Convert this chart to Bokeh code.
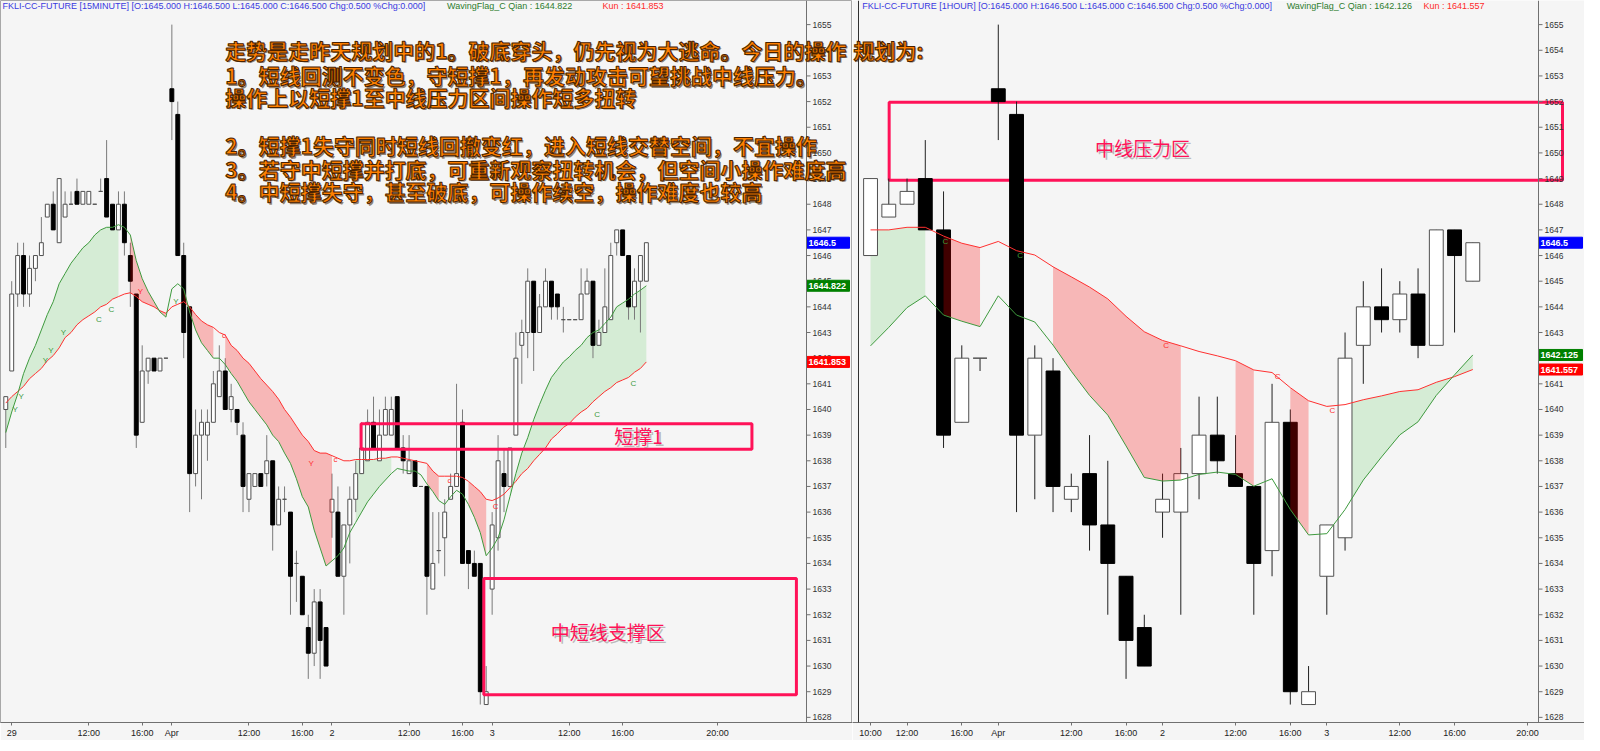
from bokeh.plotting import figure
from bokeh.layouts import row
from bokeh.models import Range1d, FixedTicker, Label, ColumnDataSource, Span
from bokeh.core.properties import value
from bokeh.embed import file_html
from bokeh.resources import INLINE

# ---------------- 15-minute panel data ----------------
m15_open = [1640, 1641.5, 1644.5, 1646, 1644.5, 1645.5, 1646, 1647.5, 1648, 1646.5,
            1647.5, 1648, 1648.5, 1648, 1648, 1648, 1648.5, 1649, 1648, 1647,
            1648, 1646, 1644.5, 1639.5, 1641.5, 1642, 1641.5, 1642,
            1652.5, 1651.5, 1646, 1644, 1637.5, 1639, 1639, 1639.5, 1640.5, 1641.5,
            1640, 1640, 1639, 1636.5, 1637, 1637.5, 1637.5, 1638, 1635.5, 1636.5,
            1636, 1634, 1633.5, 1631.5, 1630.5, 1632.5, 1631.5,
            1636, 1636, 1633.5, 1635.5, 1636.5, 1637.5, 1638, 1639.5, 1638, 1639,
            1639, 1640.5, 1638.5, 1637.5, 1638, 1637, 1637, 1633, 1634.5, 1635,
            1636.5, 1637, 1639.5, 1634.5, 1634, 1634, 1628.5,
            1633, 1635, 1637.5, 1637, 1639, 1642.5, 1643, 1645, 1643, 1644,
            1645, 1644.5, 1643.5, 1643.5, 1643.5, 1643.5, 1644.5, 1645, 1642.5, 1643,
            1643.5, 1646.5, 1647, 1646, 1644, 1645, 1645]
m15_high = [1640.5, 1645, 1646.5, 1646.5, 1646, 1646, 1647.5, 1648, 1648.5, 1649,
            1648.5, 1648.5, 1649, 1648.5, 1648.5, 1648, 1649, 1650.5, 1648, 1648.5,
            1648.5, 1646.5, 1644.5, 1642.5, 1642, 1642, 1642, 1642,
            1655, 1652, 1646.5, 1644, 1640, 1640, 1640, 1641.5, 1642.5, 1642,
            1641, 1640, 1639.5, 1637.5, 1637.5, 1637.5, 1639, 1638, 1637, 1637,
            1636, 1634.5, 1633.5, 1632, 1633, 1633, 1631.5,
            1637.5, 1637, 1635.5, 1637, 1638, 1639.5, 1640, 1640.5, 1640, 1640.5,
            1640.5, 1640.5, 1639, 1639, 1638, 1637, 1637, 1636, 1636, 1636.5,
            1637.5, 1641, 1640, 1634.5, 1634.5, 1634, 1630,
            1636, 1639, 1638.5, 1638.5, 1643, 1643.5, 1645.5, 1645, 1644.5, 1645.5,
            1645, 1644.5, 1644, 1643.5, 1643.5, 1645.5, 1645.5, 1645, 1643.5, 1645.5,
            1646.5, 1647, 1647, 1646, 1645.5, 1646, 1646.5]
m15_low = [1638.5, 1641.5, 1644, 1644, 1644, 1645, 1646, 1647.5, 1647, 1646.5,
           1647.5, 1648, 1648, 1648, 1648, 1648, 1648.5, 1647.5, 1647, 1647,
           1646, 1644, 1638.5, 1639.5, 1641, 1641.5, 1641.5, 1642,
           1650.5, 1646, 1642, 1636, 1637, 1636.5, 1638, 1639.5, 1640.5, 1640,
           1639.5, 1639, 1636, 1636, 1637, 1637, 1637, 1634.5, 1635.5, 1636,
           1632, 1632.5, 1632, 1629.5, 1630, 1629.5, 1630,
           1635, 1633.5, 1632, 1634, 1636, 1637.5, 1638, 1638.5, 1638, 1639,
           1639, 1638.5, 1637.5, 1637.5, 1637, 1637, 1632, 1633, 1634, 1633.5,
           1636.5, 1637, 1634, 1633, 1633.5, 1628.5, 1628.5,
           1632, 1634.5, 1636, 1637, 1639, 1641, 1642, 1641.5, 1643, 1644,
           1643.5, 1643.5, 1643, 1643.5, 1643.5, 1643.5, 1644.5, 1642, 1642.5, 1643,
           1643.5, 1646, 1646, 1643.5, 1643.5, 1643, 1645]
m15_close = [1640.5, 1644.5, 1646, 1644.5, 1645.5, 1646, 1646.5, 1648, 1647, 1649,
             1648, 1648, 1648, 1648.5, 1648.5, 1648, 1648.5, 1647.5, 1647, 1648,
             1646.5, 1645, 1639, 1641.5, 1642, 1641.5, 1642, 1642,
             1652, 1646, 1643, 1637.5, 1639, 1639.5, 1639.5, 1641, 1641.5, 1640,
             1640.5, 1639.5, 1637, 1637.5, 1637.5, 1637, 1638, 1635.5, 1636.5, 1636.5,
             1633.5, 1634, 1632, 1630.5, 1632.5, 1631, 1630,
             1636.5, 1633.5, 1635.5, 1636.5, 1637.5, 1638.5, 1639.5, 1638.5, 1639, 1640,
             1640, 1638.5, 1638, 1638, 1637, 1637, 1633.5, 1634, 1634.5, 1636,
             1637, 1637.5, 1634, 1634, 1633.5, 1629, 1629,
             1635.5, 1638, 1637, 1638.5, 1642, 1643, 1645, 1643, 1644, 1645,
             1644, 1644, 1643.5, 1643.5, 1643.5, 1644.5, 1645, 1642.5, 1643, 1644,
             1646, 1647, 1646, 1644, 1645, 1646, 1646.5]
m15_qian = [1639.1, 1639.9, 1640.6, 1641.4, 1642.0, 1642.5, 1643.1, 1643.7, 1644.2, 1644.9,
            1645.3, 1645.7, 1646.0, 1646.3, 1646.5, 1646.8, 1647.0, 1647.1, 1647.1, 1647.2,
            1647.1, 1646.8, 1645.8, 1645.1, 1644.6, 1644.2, 1643.8, 1643.6,
            1644.7, 1644.9, 1644.7, 1643.8, 1643.1, 1642.6, 1642.3, 1642.0, 1642.0, 1641.75,
            1641.4, 1641.1, 1640.7, 1640.3, 1640.0, 1639.7, 1639.4, 1639.0, 1638.75, 1638.3,
            1637.9, 1637.3, 1636.6, 1636.2, 1635.3, 1634.6, 1633.9,
            1634.1, 1634.3, 1634.6, 1635.2, 1635.6, 1636.0, 1636.4, 1636.7, 1637.0, 1637.25,
            1637.5, 1637.7, 1637.65, 1637.6, 1637.6, 1637.45, 1637.1, 1636.8, 1636.45, 1636.3,
            1636.6, 1636.85, 1636.7, 1636.3, 1635.8, 1635.2, 1634.3,
            1634.6, 1635.0, 1635.7, 1636.6, 1637.5, 1638.3, 1638.9, 1639.6, 1640.2, 1640.75,
            1641.25, 1641.55, 1641.85, 1642.05, 1642.3, 1642.5, 1642.8, 1643.0, 1643.1, 1643.35,
            1643.6, 1644.0, 1644.15, 1644.3, 1644.5, 1644.65, 1644.822]
m15_kun = [1640.25, 1640.5, 1640.7, 1640.9, 1641.2, 1641.4, 1641.6, 1641.9, 1642.1, 1642.4,
           1642.8, 1643.0, 1643.3, 1643.5, 1643.65, 1643.8, 1644.0, 1644.1, 1644.3, 1644.4,
           1644.5, 1644.55, 1644.4, 1644.2, 1644.1, 1644.0, 1643.85, 1643.75,
           1644.0, 1644.1, 1644.2, 1644.0, 1643.7, 1643.45, 1643.3, 1643.2, 1643.0, 1642.9,
           1642.5, 1642.3, 1642.0, 1641.8, 1641.5, 1641.2, 1640.95, 1640.7, 1640.4, 1640.0,
           1639.7, 1639.35, 1639.0, 1638.75, 1638.4, 1638.3, 1638.3,
           1638.2, 1638.1, 1638.0, 1638.0, 1638.05, 1638.05, 1638.05, 1638.05, 1638.1, 1638.1,
           1638.15, 1638.15, 1638.1, 1638.05, 1638.0, 1637.95, 1637.9, 1637.6, 1637.4, 1637.4,
           1637.4, 1637.4, 1637.35, 1637.2, 1637.0, 1636.8, 1636.5,
           1636.45, 1636.55, 1636.7, 1636.95, 1637.2, 1637.5, 1637.7, 1638.0, 1638.25, 1638.5,
           1638.85, 1639.05, 1639.3, 1639.45, 1639.7, 1639.9, 1640.05, 1640.3, 1640.5, 1640.7,
           1640.85, 1641.05, 1641.15, 1641.25, 1641.45, 1641.6, 1641.853]
# bands between the two lines: (first bar, last bar, state)
m15_bands = [(0, 19, "up"), (21, 27, "down"), (30, 35, "down"), (37, 55, "down"),
             (59, 65, "up"), (71, 73, "down"), (78, 81, "down"), (85, 108, "up")]
m15_mark_x = [1.6, 2.6, 6.7, 7.6, 9.7, 15.7, 17.8, 22.7, 28.7, 36.8, 51.5, 55.6, 74.8, 82.6, 99.7, 105.8]
m15_mark_y = [1640.0, 1640.5, 1641.9, 1642.3, 1643.0, 1643.5, 1643.9, 1644.6, 1644.2, 1642.9,
              1637.9, 1638.05, 1637.25, 1636.2, 1639.8, 1641.0]
m15_mark_t = ["Y", "Y", "Y", "Y", "Y", "C", "C", "Y", "Y", "c", "Y", "c", "c", "C", "C", "C"]
m15_mark_s = ["up", "up", "up", "up", "up", "up", "up", "down", "up", "down", "down", "down",
              "down", "down", "up", "up"]
m15_ticks = [1, 14, 23, 28, 41, 50, 55, 68, 77, 82, 95, 104, 120]
m15_tick_labels = ["29", "12:00", "16:00", "Apr", "12:00", "16:00", "2", "12:00", "16:00",
                   "3", "12:00", "16:00", "20:00"]

# ---------------- 1-hour panel data ----------------
h1_open = [1646, 1647.5, 1648, 1649, 1647, 1639.5, 1642, 1652.5, 1651.5, 1639, 1641.5,
           1636.5, 1637.5, 1635.5, 1633.5, 1631.5, 1636, 1636, 1637.5, 1639, 1637.5, 1637,
           1634.5, 1639.5, 1628.5, 1633.5, 1635, 1642.5, 1644, 1643.5, 1644.5, 1642.5,
           1647, 1645]
h1_high = [1649, 1649, 1649, 1650.5, 1648.5, 1642.5, 1642, 1655, 1652, 1642.5, 1642,
           1637.5, 1639, 1638, 1633.5, 1632, 1637.5, 1638.5, 1640.5, 1640.5, 1639, 1637,
           1641, 1640, 1630, 1635.5, 1643, 1645, 1645.5, 1645, 1645.5, 1647, 1647, 1646.5]
h1_low = [1646, 1647.5, 1648, 1647, 1638.5, 1639.5, 1641.5, 1650.5, 1636, 1636.5, 1636,
          1636, 1634.5, 1632, 1629.5, 1630, 1635, 1632, 1636.5, 1637.5, 1637, 1632,
          1633.5, 1628.5, 1628.5, 1632, 1634.5, 1641, 1643, 1643, 1642, 1642.5, 1643, 1645]
h1_close = [1649, 1648, 1648.5, 1647, 1639, 1642, 1642, 1652, 1639, 1642, 1637, 1637,
            1635.5, 1634, 1631, 1630, 1636.5, 1637.5, 1639, 1638, 1637, 1634, 1639.5,
            1629, 1629, 1635.5, 1642, 1644, 1643.5, 1644.5, 1642.5, 1647, 1646, 1646.5]
h1_qian = [1642.48, 1643.2, 1643.97, 1644.43, 1643.68, 1643.44, 1643.23, 1644.43, 1643.68,
           1643.41, 1642.51, 1641.49, 1640.55, 1639.78, 1638.58, 1637.35, 1637.21, 1637.25,
           1637.47, 1637.56, 1637.47, 1637.01, 1637.30, 1636.10, 1635.11, 1635.16, 1636.10,
           1637.25, 1638.15, 1639.01, 1639.52, 1640.55, 1641.35, 1642.126]
h1_kun = [1647.0, 1647.0, 1647.1, 1647.1, 1646.76, 1646.48, 1646.31, 1646.55, 1646.19,
          1646.02, 1645.56, 1645.17, 1644.77, 1644.31, 1643.63, 1643.03, 1642.69, 1642.48,
          1642.26, 1642.09, 1641.90, 1641.54, 1641.44, 1640.85, 1640.34, 1640.12, 1640.19,
          1640.38, 1640.53, 1640.70, 1640.77, 1641.06, 1641.28, 1641.557]
h1_bands = [(0, 3, "up"), (4, 6, "down"), (10, 17, "down"), (20, 21, "down"),
            (23, 24, "down"), (26, 33, "up")]
h1_mark_x = [4.1, 8.2, 16.2, 22.3, 25.3]
h1_mark_y = [1646.54, 1645.99, 1642.51, 1641.28, 1639.95]
h1_mark_t = ["C", "C", "C", "C", "C"]
h1_mark_s = ["up", "up", "down", "down", "down"]
h1_ticks = [0, 2, 5, 7, 11, 14, 16, 20, 23, 25, 29, 32, 36]
h1_tick_labels = ["10:00", "12:00", "16:00", "Apr", "12:00", "16:00", "2", "12:00", "16:00",
                  "3", "12:00", "16:00", "20:00"]

price_ticks = list(range(1628, 1656))

m15_header = "FKLI-CC-FUTURE [15MINUTE] [O:1645.000 H:1646.500 L:1645.000 C:1646.500 Chg:0.500 %Chg:0.000]"
h1_header = "FKLI-CC-FUTURE [1HOUR] [O:1645.000 H:1646.500 L:1645.000 C:1646.500 Chg:0.500 %Chg:0.000]"
m15_qian_txt = "WavingFlag_C Qian : 1644.822"
m15_kun_txt = "Kun : 1641.853"
h1_qian_txt = "WavingFlag_C Qian : 1642.126"
h1_kun_txt = "Kun : 1641.557"
m15_tag_val = [1646.5, 1644.822, 1641.853]
m15_tag_txt = ["1646.5", "1644.822", "1641.853"]
h1_tag_val = [1646.5, 1642.125, 1641.557]
h1_tag_txt = ["1646.5", "1642.125", "1641.557"]
tag_colors = ["#0000FF", "#008000", "#FF0000"]

# first line is split where the left chart window ends; the rest continues on the right
plan_line1_left = "走势是走昨天规划中的1。破底穿头，仍先视为大逃命。今日的操作"
plan_line1_right = "规划为:"
plan_lines = [
    "1。短线回测不变色，守短撑1，再发动攻击可望挑战中线压力。",
    "操作上以短撑1至中线压力区间操作短多扭转",
    "2。短撑1失守同时短线回撤变红，进入短线交替空间，不宜操作",
    "3。若守中短撑并打底，可重新观察扭转机会，但空间小操作难度高",
    "4。中短撑失守，甚至破底，可操作续空，操作难度也较高",
]
plan_y1 = 1654.02
plan_y = [1653.02, 1652.18, 1650.30, 1649.38, 1648.50]

# ---------------- layout constants ----------------
Y_LO, Y_HI = 1627.8, 1655.94
L_X0, L_X1 = -0.89, 135.0          # chart part of the 15-minute window
R_X0, R_X1 = -0.66, 36.6           # chart part of the 1-hour window
L_FW, L_EXT = 806, 46              # chart width, price-scale strip width (px)
R_GAP, R_FW, R_EXT = 6, 680, 46
FH = 722
BG = "#F5F5F5"
PINK = "#FF1258"
UP_LINE = "#3E9A3E"
DN_LINE = "#FF3030"
AX = "#707070"
TXT_FONT = "Liberation Sans"
CJK = "Noto Sans CJK SC"
PLAN_PX = 21
UPY = (Y_HI - Y_LO) / FH           # price units per pixel


def make_fig(width, x0, x1):
    p = figure(frame_width=width, frame_height=FH, x_range=Range1d(x0, x1),
               y_range=Range1d(Y_LO, Y_HI), y_axis_location=None,
               toolbar_location=None, output_backend="svg",
               min_border_left=0, min_border_right=0, min_border_top=0,
               min_border_bottom=0, background_fill_color=BG, border_fill_color=BG,
               outline_line_color=None)
    p.grid.visible = False
    p.xaxis.major_label_text_font = TXT_FONT
    p.xaxis.major_label_text_font_size = "9px"
    p.xaxis.major_label_text_color = "#222222"
    p.xaxis.major_tick_in = 0
    p.xaxis.major_tick_out = 3
    p.xaxis.minor_tick_line_color = None
    p.xaxis.axis_line_color = AX
    p.xaxis.major_tick_line_color = AX
    p.xaxis.major_label_standoff = 2
    return p


def set_time_axis(p, ticks, labels):
    p.xaxis.ticker = FixedTicker(ticks=ticks)
    p.xaxis.major_label_overrides = {t: s for t, s in zip(ticks, labels)}


def price_scale(p, x_axis, upx, tag_val, tag_txt, tag_w):
    """price scale drawn inside the window strip to the right of the chart"""
    p.add_layout(Span(location=x_axis, dimension="height", line_color=AX, line_width=1))
    n = len(price_ticks)
    p.segment(x0=[x_axis] * n, y0=price_ticks, x1=[x_axis + 4 * upx] * n, y1=price_ticks,
              line_color=AX, line_width=1)
    p.text(x=[x_axis + 6 * upx] * n, y=price_ticks, text=[str(v) for v in price_ticks],
           text_font=value(TXT_FONT), text_font_size="8.5px", text_color="#333333",
           text_align="left", text_baseline="middle")
    k = len(tag_val)
    p.quad(left=[x_axis] * k, right=[x_axis + tag_w * upx] * k,
           bottom=[v - 5.5 * UPY for v in tag_val], top=[v + 5.5 * UPY for v in tag_val],
           fill_color=tag_colors, line_color=tag_colors)
    p.text(x=[x_axis + 2 * upx] * k, y=tag_val, text=tag_txt, text_color="white",
           text_font=value(TXT_FONT), text_font_size="9px", text_font_style="bold",
           text_align="left", text_baseline="middle")


def draw_bands(p, qian, kun, bands, state, color, alpha):
    for a, b, s in bands:
        if s != state:
            continue
        xs = list(range(a, b + 1))
        p.varea(x=xs, y1=qian[a:b + 1], y2=kun[a:b + 1], fill_color=color, fill_alpha=alpha)


def draw_candles(p, o, h, l, c, width, wick):
    x = list(range(len(o)))
    up = [ci >= oi for oi, ci in zip(o, c)]
    src = ColumnDataSource(dict(
        x=x, h=h, l=l,
        top=[max(a, b) for a, b in zip(o, c)],
        bot=[min(a, b) for a, b in zip(o, c)],
        fill=["#FFFFFF" if u else "#000000" for u in up],
        line=["#505050" if u else "#000000" for u in up]))
    p.segment(x0="x", y0="h", x1="x", y1="l", source=src, line_color=wick, line_width=1)
    p.vbar(x="x", width=width, top="top", bottom="bot", fill_color="fill",
           line_color="line", line_width=1, source=src)


def build(p, o, h, l, c, qian, kun, bands, width, wick, mx, my, mt, ms,
          header, qtxt, ktxt, hx):
    draw_bands(p, qian, kun, bands, "up", "#00B000", 0.13)
    draw_candles(p, o, h, l, c, width, wick)
    draw_bands(p, qian, kun, bands, "down", "#FF0000", 0.25)
    xs = list(range(len(qian)))
    p.line(xs, kun, line_color=DN_LINE, line_width=1)
    p.line(xs, qian, line_color=UP_LINE, line_width=1)
    cols = [UP_LINE if s == "up" else DN_LINE for s in ms]
    p.text(x=mx, y=my, text=mt, text_color=cols, text_font=value(TXT_FONT),
           text_font_size="8px", text_align="center", text_baseline="middle")
    for x, t, col in zip(hx, [header, qtxt, ktxt], ["#3A3AE0", "#2E7D2E", "#FF2A2A"]):
        p.add_layout(Label(x=x, y=1655.71, text=t, text_align="left", text_baseline="middle",
                           text_font=TXT_FONT, text_font_size="9px", text_color=col))


def plan_label(p, x, y, t):
    p.add_layout(Label(x=x + 1.5, y=y, x_units="screen", y_offset=-1.5, text=t,
                       text_align="left", text_baseline="middle", text_font=CJK,
                       text_font_size=f"{PLAN_PX}px", text_font_style="bold",
                       text_color="#3A1E00", text_alpha=0.55))
    p.add_layout(Label(x=x, y=y, x_units="screen", text=t,
                       text_align="left", text_baseline="middle", text_font=CJK,
                       text_font_size=f"{PLAN_PX}px", text_font_style="bold",
                       text_color="#FF8000", text_outline_color="#4A2200"))


def pink_text(p, x, y, t):
    p.add_layout(Label(x=x, y=y, text=t, x_offset=2, y_offset=-2, text_align="center",
                       text_baseline="middle", text_font=CJK, text_font_size="19px",
                       text_color="#A0A0A0", text_alpha=0.7))
    p.add_layout(Label(x=x, y=y, text=t, text_align="center", text_baseline="middle",
                       text_font=CJK, text_font_size="19px", text_color=PINK))


# ---------------- left window (15 minute) ----------------
l_upx = (L_X1 - L_X0) / L_FW
pL = make_fig(L_FW + L_EXT, L_X0, L_X1 + L_EXT * l_upx)
pL.outline_line_color = "#A8A8A8"
set_time_axis(pL, m15_ticks, m15_tick_labels)
build(pL, m15_open, m15_high, m15_low, m15_close, m15_qian, m15_kun, m15_bands, 0.66,
      "#7A7A7A", m15_mark_x, m15_mark_y, m15_mark_t, m15_mark_s,
      m15_header, m15_qian_txt, m15_kun_txt, [-0.55, 74.4, 100.6])
price_scale(pL, L_X1, l_upx, m15_tag_val, m15_tag_txt, L_EXT - 3)
pL.quad(left=[59.9, 80.6], right=[125.8, 133.3], bottom=[1638.45, 1628.88],
        top=[1639.44, 1633.41], fill_alpha=0, line_color=PINK, line_width=3)
pink_text(pL, 106.7, 1639.0, "短撑1")
pink_text(pL, 101.5, 1631.34, "中短线支撑区")
plan_px = (37.0 - L_X0) / l_upx
plan_label(pL, plan_px, plan_y1, plan_line1_left)
for t, y in zip(plan_lines, plan_y):
    plan_label(pL, plan_px, y, t)

# ---------------- right window (1 hour) ----------------
r_upx = (R_X1 - R_X0) / R_FW
pR = make_fig(R_GAP + R_FW + R_EXT, R_X0 - R_GAP * r_upx, R_X1 + R_EXT * r_upx)
set_time_axis(pR, h1_ticks, h1_tick_labels)
pR.add_layout(Span(location=R_X0, dimension="height", line_color="#303030", line_width=1))
pR.quad(left=[1.02], right=[R_X1 + 24 * r_upx], bottom=[1648.93], top=[1651.97],
        fill_alpha=0, line_color=PINK, line_width=3)
build(pR, h1_open, h1_high, h1_low, h1_close, h1_qian, h1_kun, h1_bands, 0.76,
      "#222222", h1_mark_x, h1_mark_y, h1_mark_t, h1_mark_s,
      h1_header, h1_qian_txt, h1_kun_txt, [-0.45, 22.8, 30.3])
price_scale(pR, R_X1, r_upx, h1_tag_val, h1_tag_txt, 44)
pink_text(pR, 14.9, 1650.23, "中线压力区")

# continuation of the first plan line in the right window
left_part_em = 29.45
cont = plan_px + left_part_em * PLAN_PX - (L_FW + L_EXT)
plan_label(pR, max(cont, 1.0), plan_y1, plan_line1_right)

layout = row(pL, pR)
open("out.html", "w").write(file_html(layout, INLINE))
